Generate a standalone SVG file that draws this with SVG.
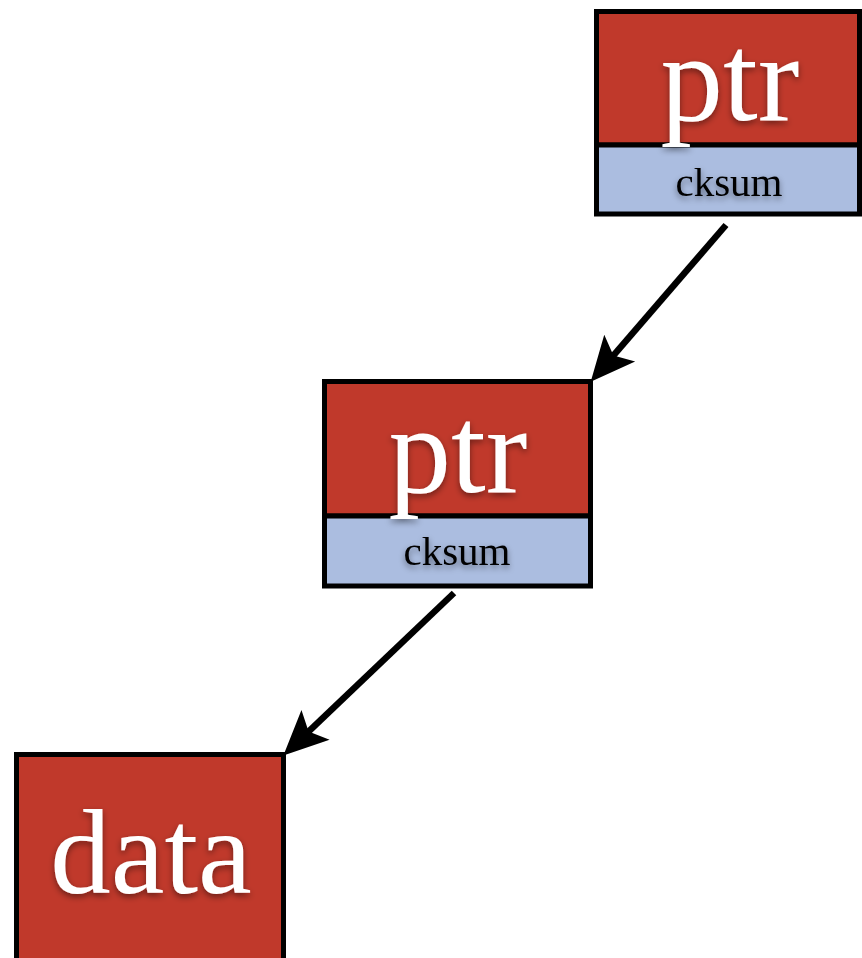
<svg xmlns="http://www.w3.org/2000/svg" width="862" height="958" viewBox="0 0 862 958">
<style>
.red{fill:#c0392b;stroke:#000;stroke-width:5}
.blue{fill:#abbde0;stroke:#000;stroke-width:5}
.big{font-family:"Liberation Serif",serif;font-size:125px;fill:#fff;text-anchor:middle;filter:url(#sh)}
.small{font-family:"Liberation Serif",serif;font-size:41px;fill:#000;text-anchor:middle;filter:url(#sh)}
.conn line{stroke:#000;stroke-width:6.5;marker-end:url(#ah)}
</style>
<defs>
<filter id="sh" x="-20%" y="-20%" width="140%" height="140%">
<feDropShadow dx="0" dy="3" stdDeviation="3" flood-color="#000" flood-opacity="0.45"/>
</filter>
<marker id="ah" markerUnits="userSpaceOnUse" orient="auto" refX="0" refY="0" markerWidth="60" markerHeight="60" viewBox="-20 -25 50 50" overflow="visible">
<path d="M25,0 L-12,-17 L-4,0 L-12,17 Z" fill="#000"/>
</marker>
</defs>
<rect width="862" height="958" fill="#fff"/>
<g id="node-top">
<rect class="red" x="596.5" y="11.5" width="263" height="133.5"/>
<rect class="blue" x="596.5" y="145" width="263" height="69"/>
<text class="big" x="730" y="120">ptr</text>
<text class="small" x="729" y="196">cksum</text>
</g>
<g id="node-mid">
<rect class="red" x="324.5" y="381.5" width="266" height="134.5"/>
<rect class="blue" x="324.5" y="516" width="266" height="70"/>
<text class="big" x="458" y="492">ptr</text>
<text class="small" x="457" y="565">cksum</text>
</g>
<g id="node-data">
<rect class="red" x="16.5" y="754.5" width="267" height="220"/>
<text class="big" x="151" y="893" style="font-size:121px">data</text>
</g>
<g id="connectors" class="conn">
<line x1="726" y1="225" x2="610.3" y2="359.1"/>
<line x1="454" y1="593" x2="305.1" y2="734.8"/>
</g>
</svg>
